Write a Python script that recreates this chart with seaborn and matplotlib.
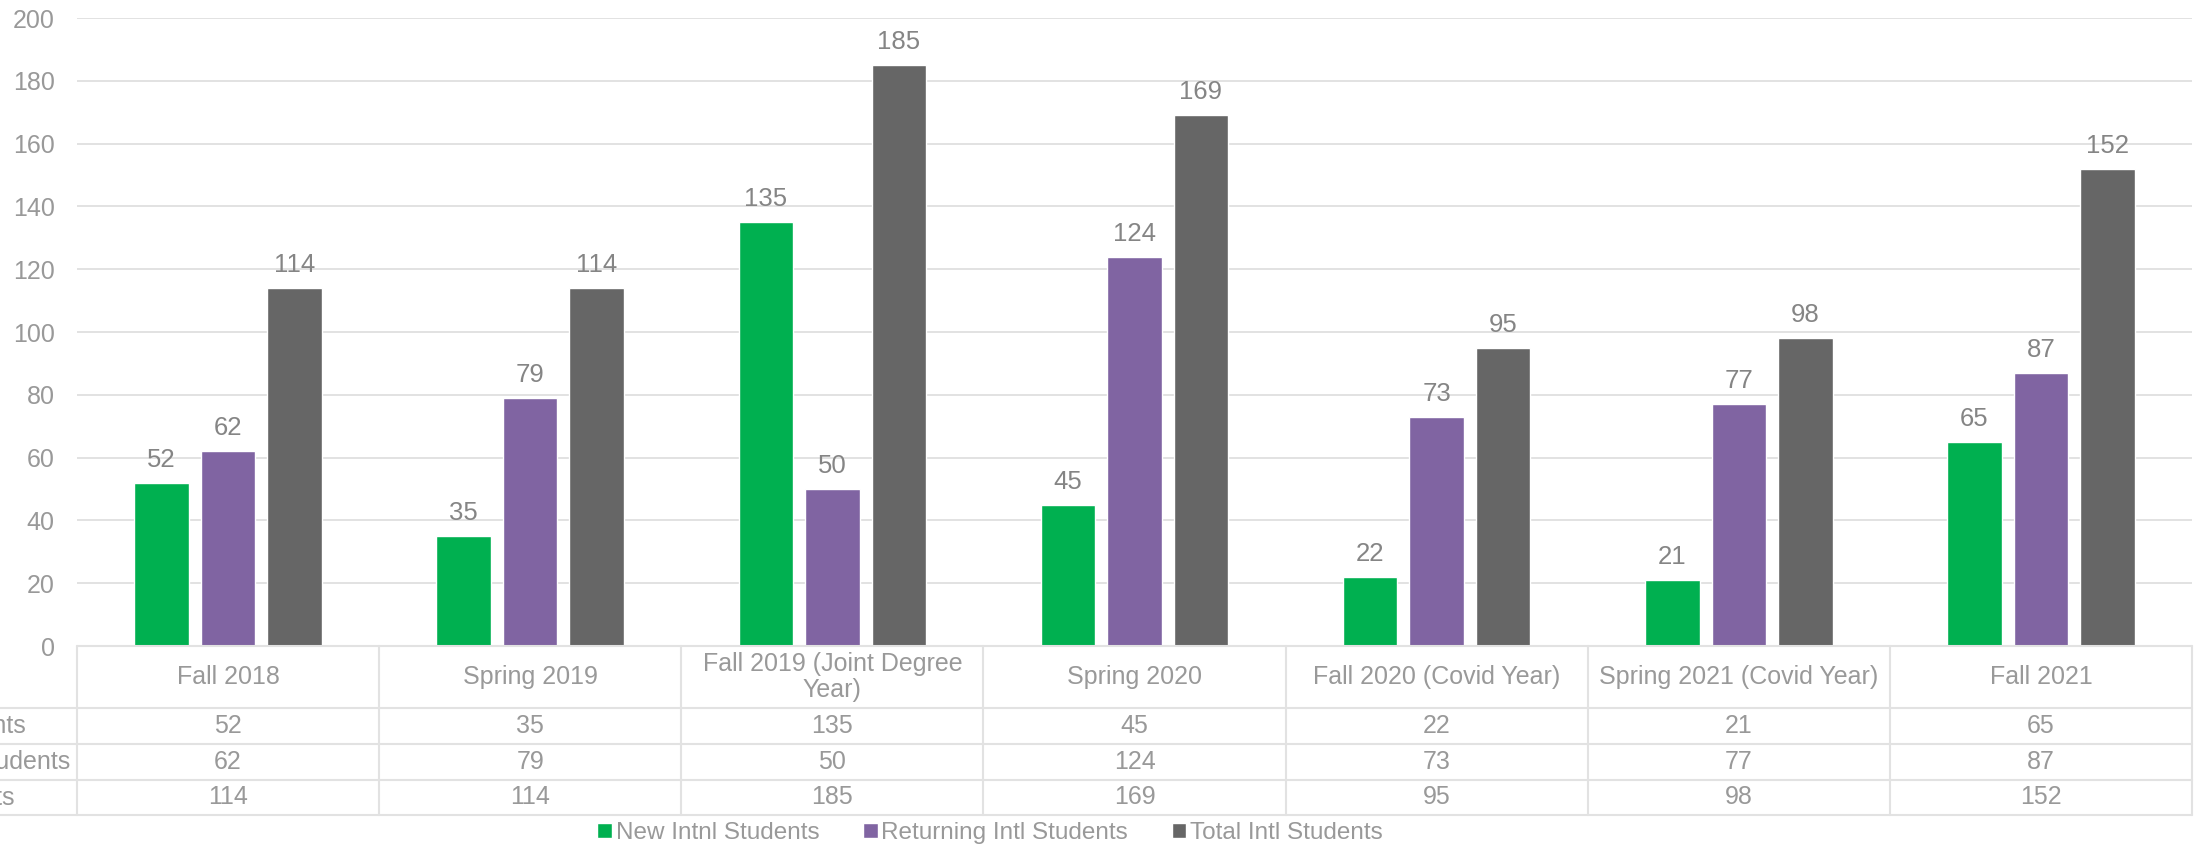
import numpy as np
import pandas as pd
import seaborn as sns
import matplotlib.pyplot as plt
from matplotlib.lines import Line2D
from matplotlib.transforms import blended_transform_factory

# data
terms = ['Fall 2018', 'Spring 2019', 'Fall 2019 (Joint Degree\nYear)', 'Spring 2020',
         'Fall 2020 (Covid Year)', 'Spring 2021 (Covid Year)', 'Fall 2021']
series = ['New Intnl Students', 'Returning Intl Students', 'Total Intl Students']
new_students = [52, 35, 135, 45, 22, 21, 65]
returning_students = [62, 79, 50, 124, 73, 77, 87]
total_students = [114, 114, 185, 169, 95, 98, 152]
colors = ['#00B050', '#8064A2', '#666666']

values = [new_students, returning_students, total_students]
df = pd.DataFrame({
    'term': terms * 3,
    'series': np.repeat(series, len(terms)),
    'count': np.concatenate(values),
})

sns.set_theme(style='white')
plt.rcParams['font.family'] = ['Liberation Sans', 'DejaVu Sans']

W, H = 2195, 847
fig = plt.figure(figsize=(W / 100, H / 100), dpi=100)
ax = fig.add_axes([77 / W, 1 - 646 / H, (2192 - 77) / W, (646 - 18) / H])

sns.barplot(data=df, x='term', y='count', hue='series', order=terms, hue_order=series,
            palette=colors, width=0.66, gap=0.18, saturation=1, ax=ax)

handles, labels = ax.get_legend_handles_labels()
ax.legend_.remove()

for cont in ax.containers:
    ax.bar_label(cont, padding=8, fontsize=18.5, color='#858585')

ax.set_ylim(0, 200)
ax.set_xlim(-0.5, len(terms) - 0.5)
ax.set_yticks(range(0, 201, 20))
ax.yaxis.grid(True, color='#e2e2e2', lw=1.4)
ax.set_axisbelow(True)
ax.tick_params(axis='y', length=0, pad=16, labelsize=18, labelcolor='#999999')
ax.tick_params(axis='x', length=0, labelbottom=False)
ax.set_xlabel('')
ax.set_ylabel('')
for s in ax.spines.values():
    s.set_visible(False)

# ---- data table under the chart ----
line_kw = dict(color='#e2e2e2', lw=1.5, clip_on=False)
trans = blended_transform_factory(ax.transData, ax.transAxes)
ax_h = 646 - 18
row_px = [62, 98, 134, 169]          # row borders below the axis, pixels

ax.plot([-0.5, len(terms) - 0.5], [0, 0], transform=trans, **line_kw)
for px in row_px:
    y = 1 - (646 + px) / H
    fig.add_artist(Line2D([0, 2192 / W], [y, y], transform=fig.transFigure, **line_kw))
for i in range(len(terms) + 1):
    ax.plot([i - 0.5, i - 0.5], [0, -row_px[-1] / ax_h], transform=trans, **line_kw)

txt_kw = dict(fontsize=18, color='#999999', ha='center', va='center', clip_on=False)
for i, t in enumerate(terms):
    ax.text(i, -31 / ax_h, t, transform=trans, linespacing=1.1, **txt_kw)

row_mid = [(row_px[k] + row_px[k + 1]) / 2 for k in range(3)]
for vals, mid in zip(values, row_mid):
    for i, v in enumerate(vals):
        ax.text(i, -mid / ax_h, str(v), transform=trans, **txt_kw)

# row labels are left aligned, the longest one ends just left of the table
renderer = fig.canvas.get_renderer()
probe = fig.text(0, 0, max(series, key=len), fontsize=18)
wpx = probe.get_window_extent(renderer).width
probe.remove()
x0 = (70 - wpx) / W
for name, mid in zip(series, row_mid):
    fig.text(x0, 1 - (646 + mid) / H, name, fontsize=18, color='#999999',
             ha='left', va='center')

fig.legend(handles, labels, loc='center', bbox_to_anchor=(990 / W, 1 - 833 / H), ncol=3,
           frameon=False, fontsize=17.5, labelcolor='#999999', handlelength=0.6,
           handleheight=0.6, handletextpad=0.15, columnspacing=1.8)

fig.savefig('out.png', dpi=100)
